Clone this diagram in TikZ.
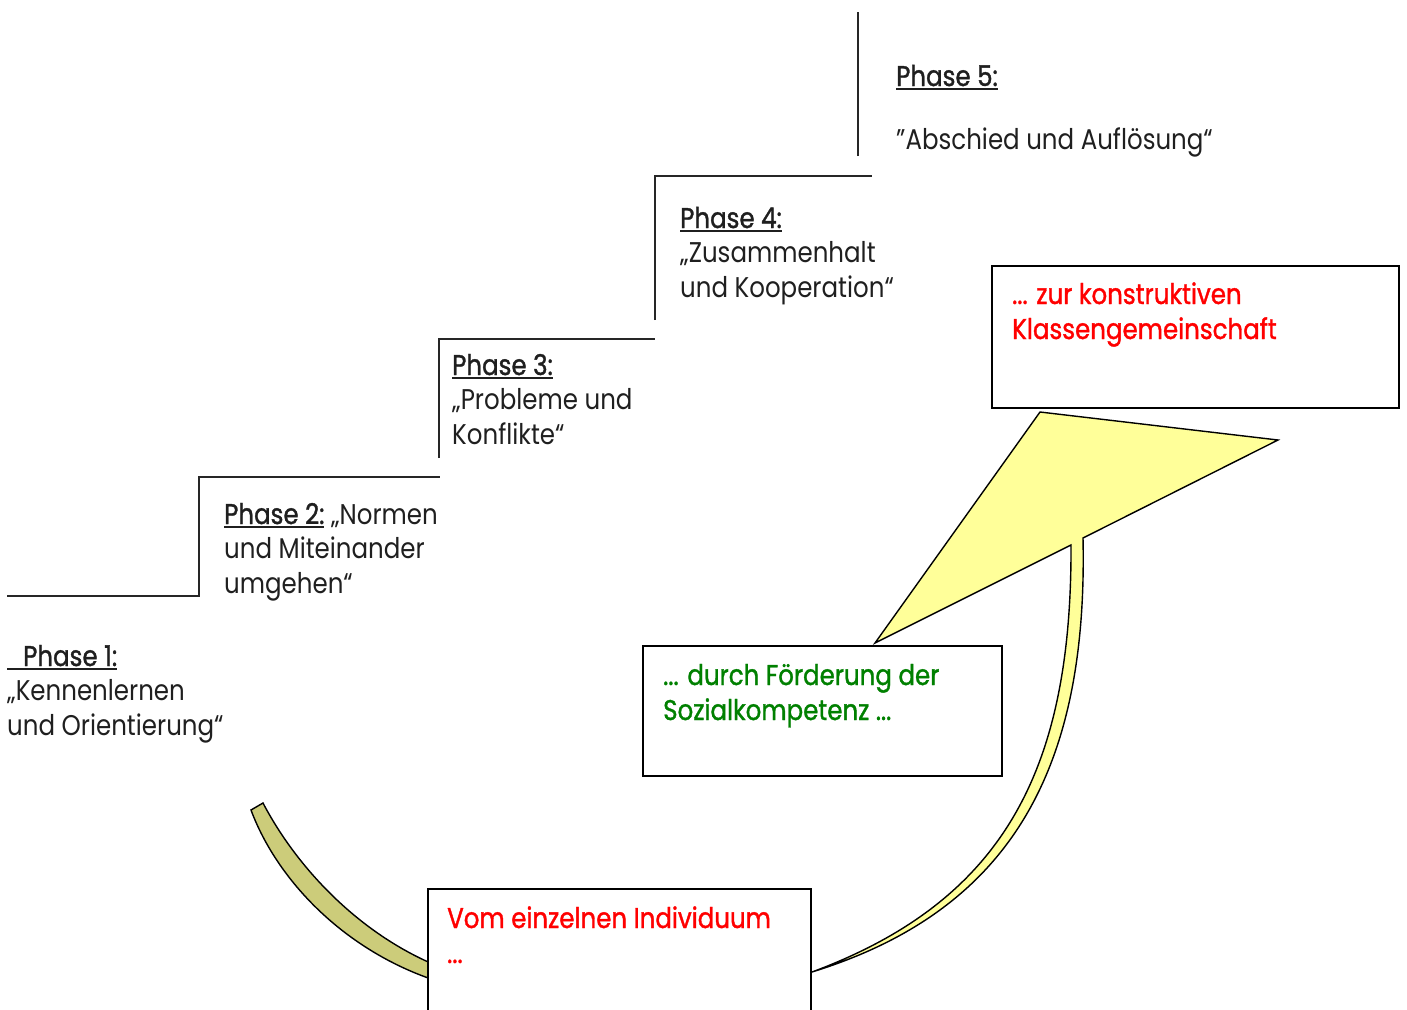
\documentclass[tikz,border=0pt]{standalone}
\usepackage{fontspec}
\setmainfont[FakeStretch=0.86]{Poppins}
\newfontfamily\boxfont[FakeStretch=0.86,FakeBold=1.2]{Poppins}
\newcommand{\phaselbl}[1]{{\boxfont\setbox0\hbox{#1}\rlap{\rule[-3.5pt]{\wd0}{1.8pt}}\box0}}
\colorlet{txtGray}{black!88}
\definecolor{bandOlive}{RGB}{204,204,122}
\definecolor{bandYellow}{RGB}{255,255,153}
\definecolor{boxGreen}{RGB}{0,128,0}
\tikzset{
  phasetext/.style={anchor=base west, align=left, inner sep=0pt, text=txtGray,
    font=\fontsize{28.5}{34.5}\selectfont},
  boxtext/.style={anchor=base west, align=left, inner sep=0pt,
    font=\boxfont\fontsize{28.5}{35}\selectfont},
  frame/.style={draw=black, fill=white, line width=1.6pt, inner sep=0pt, anchor=north west},
  stairs/.style={line width=1.6pt, black!85}
}

\begin{document}
\begin{tikzpicture}[x=1pt,y=-1pt]
    \useasboundingbox (0,0) rectangle (1407,1009);
    \clip (0,0) rectangle (1407,1009);

    % the stairs
    \draw[stairs] (7,596) -- (199,596) -- (199,477) -- (440,477);
    \draw[stairs] (439,458) -- (439,339) -- (655,339);
    \draw[stairs] (655,320) -- (655,176) -- (872,176);
    \draw[stairs] (858,156) -- (858,12);

    % text nodes sit on the baseline of their last line
    \node[phasetext] (phaseA) at (7,735) {\phaselbl{\hspace{16pt}Phase 1:}\\,,Kennenlernen\\und Orientierung``};
    \node[phasetext] (phaseB) at (224,593) {\phaselbl{Phase 2:} ,,Normen\\und Miteinander\\umgehen``};
    \node[phasetext] (phaseC) at (452,444) {\phaselbl{Phase 3:}\\,,Probleme und\\Konflikte``};
    \node[phasetext] (phaseD) at (680,297) {\phaselbl{Phase 4:}\\,,Zusammenhalt\\und Kooperation``};
    \node[phasetext] (phaseE) at (896,149) {\phaselbl{Phase 5:}\\[-3pt]\mbox{}\\[-3pt]"Abschied und Auflösung``};

    % left band into the first box
    \filldraw[fill=bandOlive, draw=black, line width=1.4pt]
      (251,810) .. controls (277,880) and (345,952) .. (440,982)
      -- (440,967) .. controls (360,935) and (297,868) .. (263,803) -- cycle;

    % curved arrow up to the goal
    \filldraw[fill=bandYellow, draw=black, line width=1.4pt]
      (812,972) .. controls (1012,910) and (1088,768) .. (1083,538)
      -- (1278,440) -- (1040,412) -- (875,643) -- (1071,545)
      .. controls (1072,775) and (1000,902) .. (812,972) -- cycle;

    % the three boxes
    \node[frame, minimum width=383pt, minimum height=150pt] (start) at (427,888) {};
    \node[frame, minimum width=359pt, minimum height=130pt] (mitte) at (642,645) {};
    \node[frame, minimum width=407pt, minimum height=142pt] (ziel) at (991,265) {};

    \node[boxtext, text=red] (startText) at (447,963) {Vom einzelnen Individuum\\...};
    \node[boxtext, text=boxGreen] (mitteText) at (663,720) {... durch Förderung der\\Sozialkompetenz ...};
    \node[boxtext, text=red] (zielText) at (1012,339) {... zur konstruktiven\\Klassengemeinschaft};
\end{tikzpicture}
\end{document}
